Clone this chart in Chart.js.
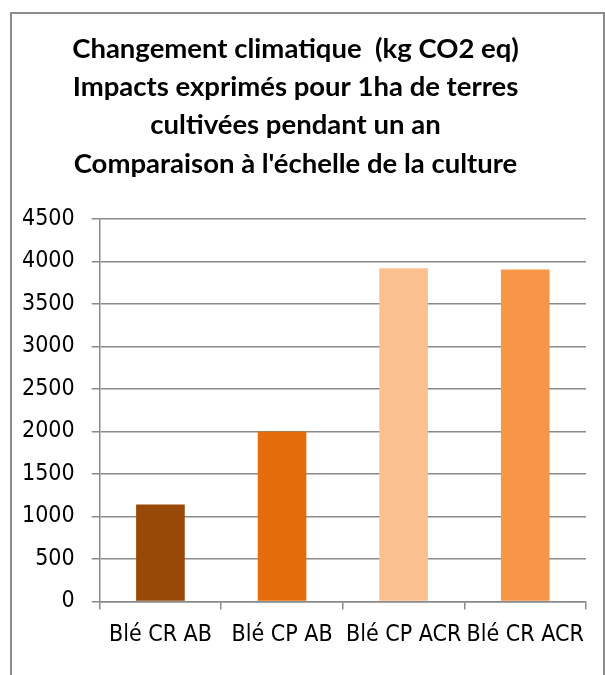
<!DOCTYPE html>
<html>
<head>
<meta charset="utf-8">
<script src="https://cdn.jsdelivr.net/npm/chart.js@4"></script>
<style>
    body { margin: 0; background: #fff; }
    #frame {
        position: absolute; left: 10px; top: 12px;
        width: 591px; height: 680px;
        border: 2px solid #8c8c8c;
    }
    #wrap { position: absolute; left: 0; top: 0; width: 605px; height: 675px; }
</style>
</head>
<body>
<div id="frame"></div>
<div id="wrap"><canvas id="impactChart" width="605" height="675"></canvas></div>
<script>
// Data
const categories = ['Blé CR AB', 'Blé CP AB', 'Blé CP ACR', 'Blé CR ACR'];
const impacts = [1140, 2000, 3918, 3906];
const barColors = ['#984807', '#e46c0a', '#fac090', '#f79646'];
const titleLines = [
    'Changement climatique  (kg CO2 eq)',
    'Impacts exprimés pour 1ha de terres',
    'cultivées pendant un an',
    "Comparaison à l'échelle de la culture"
];
const yMax = 4500;
const yStep = 500;

document.addEventListener('DOMContentLoaded', function() {
    let ctx = document.getElementById('impactChart').getContext('2d');
    new Chart(ctx, {
        type: 'bar',
        data: {
            labels: categories,
            datasets: [{
                data: impacts,
                backgroundColor: barColors,
                categoryPercentage: 1.0,
                barPercentage: 0.4
            }]
        },
        options: {
            responsive: false,
            animation: false,
            layout: { padding: { left: 5, right: 19, top: 11, bottom: 14 } },
            plugins: {
                legend: { display: false },
                tooltip: { enabled: false },
                title: {
                    display: true,
                    text: titleLines,
                    color: '#000',
                    font: { family: 'Lato', weight: 'bold', size: 27.5, lineHeight: 1.39 },
                    padding: { top: 19, bottom: 36 }
                }
            },
            scales: {
                x: {
                    grid: {
                        offset: true,
                        drawOnChartArea: false,
                        color: '#8a8a8a',
                        lineWidth: 1.5,
                        tickLength: 8
                    },
                    border: { color: '#8a8a8a', width: 1.5 },
                    ticks: {
                        color: '#000',
                        padding: 12,
                        maxRotation: 0,
                        font: { family: 'DejaVu Sans Condensed', size: 23 }
                    }
                },
                y: {
                    min: 0,
                    max: yMax,
                    grid: { color: '#8a8a8a', lineWidth: 1.5, tickLength: 8 },
                    border: { color: '#8a8a8a', width: 1.5 },
                    ticks: {
                        stepSize: yStep,
                        color: '#000',
                        padding: 17,
                        font: { family: 'DejaVu Sans Condensed', size: 23 },
                        callback: function(value) {
                            return String(value);
                        }
                    }
                }
            }
        }
    });
});
</script>
</body>
</html>
